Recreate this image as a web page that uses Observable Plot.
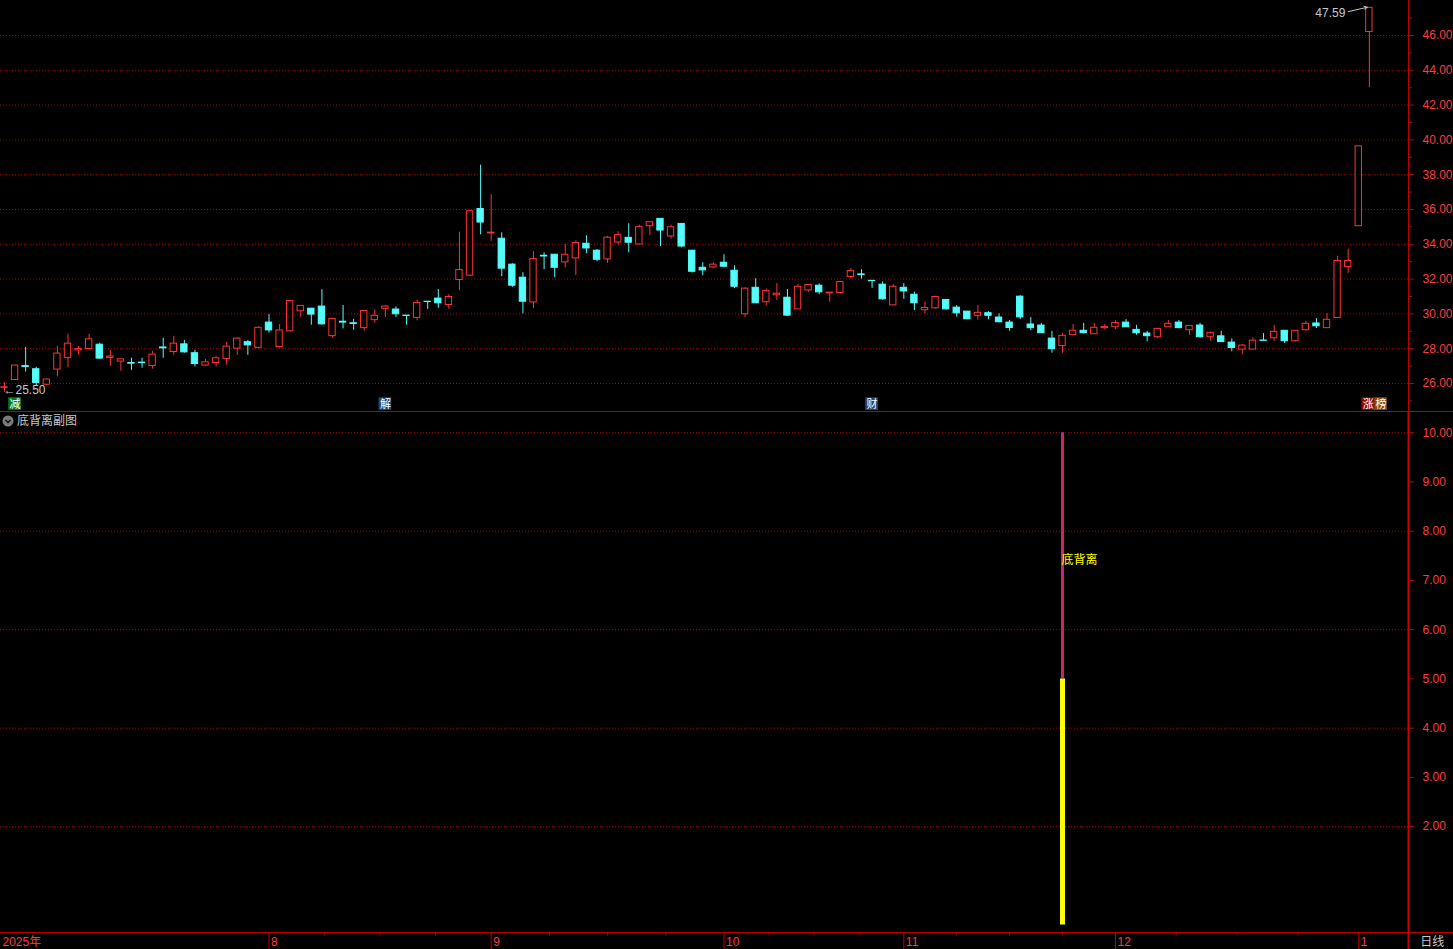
<!DOCTYPE html>
<html><head><meta charset="utf-8">
<script src="https://cdn.jsdelivr.net/npm/d3@7"></script>
<script src="https://cdn.jsdelivr.net/npm/@observablehq/plot@0.6"></script>
<style>
html,body{margin:0;padding:0;background:#000;overflow:hidden;}
#wrap{position:relative;width:1453px;height:949px;background:#000;}
#wrap > div.pane{position:absolute;left:0;}
.pane svg{display:block;}
.lbl{position:absolute;font:12px "Noto Sans CJK SC","Liberation Sans",sans-serif;color:#c8c8c8;white-space:nowrap;line-height:14px;}
.lbl svg{display:inline-block;vertical-align:-2px;margin-right:3px;}
</style></head><body><div id="wrap"></div>
<script>
// ---- candle data (index 0..129, late Jun 2025 -> 6 Jan 2026) ----
const opens  = [25.75,26.20,27.00,26.82,25.93,26.80,27.47,27.90,27.98,28.23,27.47,27.26,27.18,27.20,27.01,28.07,27.81,28.25,27.74,27.03,27.18,27.41,28.00,28.37,28.05,29.50,28.10,29.00,30.15,30.30,30.42,28.72,29.55,29.46,29.18,29.64,30.29,30.25,29.90,29.77,30.70,30.88,30.51,31.95,32.20,36.03,34.62,34.32,32.83,32.08,30.66,33.34,33.40,32.96,33.19,34.03,33.63,33.13,34.10,34.37,33.99,35.04,35.46,34.45,35.17,33.63,32.65,32.67,32.94,32.48,29.98,31.50,30.67,31.07,30.93,30.26,31.35,31.62,31.18,31.20,32.12,32.27,31.90,31.68,30.49,31.50,31.10,30.21,30.32,30.80,30.36,30.13,29.89,30.04,29.79,29.50,30.99,29.39,29.33,28.58,28.15,28.78,29.03,28.83,29.18,29.23,29.50,29.08,28.87,28.66,29.23,29.50,29.06,29.33,28.66,28.71,28.35,27.95,27.95,28.47,28.60,29.03,28.43,29.06,29.45,29.18,29.77,32.69,35.04,46.20];
const highs  = [26.05,27.05,28.08,26.93,26.25,28.14,28.83,28.14,28.83,28.31,27.91,27.39,27.45,27.45,27.85,28.60,28.71,28.48,27.91,27.39,27.56,28.37,28.64,28.48,29.25,29.96,29.39,30.76,30.46,30.30,31.39,29.73,30.48,29.68,30.20,30.24,30.46,30.40,29.90,30.80,30.70,31.40,31.10,34.70,35.92,38.55,36.85,34.66,32.88,32.37,33.57,33.51,33.42,33.99,34.20,34.49,33.70,34.45,34.72,35.18,35.10,35.28,35.47,35.10,35.18,33.65,32.94,32.94,33.40,32.77,31.50,32.02,31.43,31.74,31.40,31.70,31.68,31.72,31.22,31.84,32.60,32.54,31.90,31.84,31.68,31.74,31.25,30.70,30.98,30.82,30.48,30.14,30.48,30.13,30.00,29.62,31.05,29.79,29.45,28.99,28.86,29.39,29.45,29.45,29.39,29.62,29.67,29.34,29.00,29.15,29.62,29.62,29.32,29.45,28.96,29.00,28.56,28.26,28.63,28.87,29.34,29.04,29.04,29.57,29.73,30.02,33.32,33.72,39.64,47.59];
const lows   = [25.50,26.20,26.66,25.86,25.90,26.38,26.90,27.62,27.87,27.39,26.99,26.70,26.76,26.88,26.82,27.45,27.62,27.74,26.95,27.00,26.95,27.05,27.62,27.62,28.00,28.90,28.05,28.95,29.80,29.35,29.35,28.60,29.14,29.06,29.00,29.47,29.80,29.80,29.35,29.60,30.26,30.32,30.26,31.34,32.15,34.55,34.17,32.14,31.52,30.00,30.30,32.54,32.08,32.64,32.21,33.46,33.00,32.90,33.97,33.51,33.97,34.49,33.87,34.30,33.80,32.35,32.19,32.60,32.65,31.46,29.77,30.60,30.46,30.78,29.86,30.26,31.24,31.10,30.66,31.20,32.00,32.00,31.47,30.78,30.49,30.84,30.20,30.00,30.28,30.22,29.81,29.66,29.64,29.66,29.50,29.00,29.67,29.04,28.88,27.74,27.74,28.77,28.85,28.82,29.07,29.10,29.22,28.77,28.40,28.58,29.22,29.17,28.77,28.60,28.43,28.37,27.82,27.66,27.94,28.45,28.43,28.30,28.37,29.02,29.16,29.17,29.75,32.33,35.02,43.00];
const closes = [25.78,27.03,26.95,26.03,26.23,27.72,28.29,27.98,28.54,27.43,27.55,27.39,27.14,27.17,27.66,28.02,28.29,27.79,27.12,27.22,27.45,28.12,28.58,28.19,29.20,29.05,29.05,30.74,30.46,29.96,29.40,29.71,29.50,29.42,30.17,29.89,30.42,29.98,29.88,30.63,30.68,30.61,30.97,32.52,35.90,35.25,34.67,32.60,31.62,30.70,33.15,33.30,32.65,33.40,34.08,33.76,33.11,34.38,34.53,34.09,35.00,35.27,34.79,34.98,33.87,32.42,32.50,32.83,32.71,31.56,31.45,30.61,31.32,31.16,29.90,31.56,31.66,31.24,31.22,31.83,32.46,32.23,31.88,30.84,31.56,31.29,30.61,30.34,30.97,30.26,30.03,29.69,30.06,29.89,29.52,29.19,29.80,29.18,28.89,27.97,28.74,29.03,28.89,29.20,29.25,29.48,29.23,28.89,28.72,29.14,29.43,29.18,29.31,28.66,28.91,28.38,28.04,28.18,28.46,28.45,28.97,28.43,29.03,29.43,29.29,29.66,33.04,33.04,39.63,47.59];

// price axis ticks
const priceTicks = [26,28,30,32,34,36,38,40,42,44,46];
const priceMinor = [25,27,29,31,33,35,37,39,41,43,45,47];

// event markers on the price pane
const markText = ["减","解","财","涨","榜"];
const markIdx  = [1.0, 36, 82, 128.9, 130.1];
const markBg   = ["#0a7a0a","#1c4a6e","#1c4a6e","#8c0a0a","#8c4a0a"];

// indicator (底背离副图)
const sigIdx = [100];
const sigTop = [10];
const sigMid = [5];
const sigBottom = [0];
const sigLabel = ["底背离"];
const sigLabelY = [7.42];
const indTicks = [2,3,4,5,6,7,8,9,10];
const indGrid = [2,4,6,8,10];

// date axis
const monthLabels = ["2025年","8","9","10","11","12","1"];
const monthIdx = [-0.378,25,46,68,85,105,128];
const minorIdx = [30.25,35.5,40.75,51.5,57,62.5,72.25,76.5,80.75,90,95,100,110.75,116.5,122.25];

// ---- build ----
const RED="#ff3232", CYAN="#54fcfc", GRID="#b00000", AXIS="#c00000", LBL="#ff3c3c", GRAY="#c8c8c8";
const MAGENTA="#d0206e", YELLOW="#ffff00";
const FONT="'Liberation Sans', Arial, 'Noto Sans CJK SC', sans-serif";
const W=1453, RM=45;
const xDomain=[-0.378,132.70];

const candles = opens.map((o,i)=>({i,o,h:highs[i],l:lows[i],c:closes[i]}));
const up = candles.filter(d=>d.c>=d.o), dn = candles.filter(d=>d.c<d.o);
const marks = markText.map((t,k)=>({t,i:markIdx[k],bg:markBg[k]}));
const sig = sigIdx.map((i,k)=>({i,top:sigTop[k],mid:sigMid[k],bot:sigBottom[k],label:sigLabel[k],ly:sigLabelY[k]}));
const baseStyle = {background:"#000",color:LBL,fontFamily:FONT,fontSize:"12px",overflow:"visible"};

const priceChart = Plot.plot({
  width:W, height:412, marginTop:0, marginBottom:0, marginLeft:0, marginRight:RM,
  style:baseStyle,
  x:{domain:xDomain, axis:null},
  y:{domain:[24.333,48.011], axis:null},
  marks:[
    Plot.ruleY(priceTicks,{stroke:GRID,strokeDasharray:"1,2"}),
    Plot.ruleX(up,{x:"i",y1:"l",y2:"h",stroke:RED}),
    Plot.ruleX(dn,{x:"i",y1:"l",y2:"h",stroke:CYAN}),
    Plot.rect(up,{x1:d=>d.i-0.3,x2:d=>d.i+0.3,y1:"o",y2:"c",fill:"#000",stroke:RED}),
    Plot.rect(dn,{x1:d=>d.i-0.3,x2:d=>d.i+0.3,y1:"c",y2:"o",fill:CYAN,stroke:CYAN}),
    Plot.axisY(priceTicks,{anchor:"right",tickSize:5,tickPadding:9,tickFormat:d=>d.toFixed(2),stroke:AXIS,fill:LBL,fontSize:12}),
    Plot.axisY(priceMinor,{anchor:"right",tickSize:3,tickFormat:()=>"",stroke:AXIS}),
    Plot.ruleX([xDomain[1]],{stroke:AXIS}),
    // low / high labels
    Plot.text([candles[0]],{x:"i",y:"l",text:d=>"←"+d.l.toFixed(2),textAnchor:"start",dx:-1,dy:-2,fill:GRAY,fontSize:12}),
    Plot.text([candles[129]],{x:"i",y:"h",text:d=>d.h.toFixed(2),textAnchor:"end",dx:-24,dy:5,fill:GRAY,fontSize:12}),
    Plot.arrow([candles[129]],{x1:d=>d.i-2.0,y1:d=>d.h-0.22,x2:d=>d.i-0.2,y2:d=>d.h+0.03,stroke:GRAY,headLength:5,strokeWidth:1}),
    // event markers
    Plot.rect(marks,{x1:d=>d.i-0.6,x2:d=>d.i+0.6,y1:24.45,y2:25.18,fill:"bg"}),
    Plot.text(marks,{x:"i",y:24.80,text:"t",fill:"#fff",fontSize:11,fontFamily:"'Noto Sans CJK SC',sans-serif"})
  ],
  color:{type:"identity"}
});

const indChart = Plot.plot({
  width:W, height:520, marginTop:0, marginBottom:0, marginLeft:0, marginRight:RM,
  style:baseStyle,
  x:{domain:xDomain, axis:null},
  y:{domain:[-0.15,10.41], axis:null},
  marks:[
    Plot.ruleY(indGrid,{stroke:GRID,strokeDasharray:"1,2"}),
    Plot.ruleX(sig,{x:"i",y1:"mid",y2:"top",stroke:MAGENTA,strokeWidth:3}),
    Plot.ruleX(sig,{x:"i",y1:"bot",y2:"mid",stroke:YELLOW,strokeWidth:5}),
    Plot.text(sig,{x:"i",y:"ly",text:"label",fill:YELLOW,textAnchor:"start",dx:-1,fontSize:12,fontFamily:"'Noto Sans CJK SC',sans-serif"}),
    Plot.axisY(indTicks,{anchor:"right",tickSize:5,tickPadding:9,tickFormat:d=>d.toFixed(2),stroke:AXIS,fill:LBL,fontSize:12}),
    Plot.ruleX([xDomain[1]],{stroke:"#d00000",strokeWidth:2})
  ]
});

const dateChart = Plot.plot({
  width:W, height:17, margin:0,
  style:baseStyle,
  x:{domain:[-0.378,136.95], axis:null},
  y:{domain:[0,1], axis:null},
  marks:[
    Plot.ruleY([1],{stroke:AXIS}),
    Plot.ruleX(monthIdx.slice(1),{stroke:AXIS}),
    Plot.ruleX(minorIdx,{y1:0.8,y2:1,stroke:AXIS}),
    Plot.text(monthLabels,{x:(d,k)=>monthIdx[k],y:0.45,text:d=>d,textAnchor:"start",dx:2,fill:LBL,fontSize:12,fontFamily:"'Liberation Sans','Noto Sans CJK SC',sans-serif"}),
    Plot.ruleX([xDomain[1]],{stroke:AXIS,strokeWidth:2}),
    Plot.text(["日线"],{x:133.8,y:0.45,text:d=>d,textAnchor:"start",fill:GRAY,fontSize:12,fontFamily:"'Noto Sans CJK SC',sans-serif"})
  ]
});

const wrap = document.getElementById("wrap");
function place(node, top){const d=document.createElement("div");d.className="pane";d.style.top=top+"px";d.appendChild(node);wrap.appendChild(d);}
place(priceChart,0);
place(indChart,412);
place(dateChart,932);
// pane separator
const sep=document.createElement("div");
sep.style.cssText="position:absolute;left:0;top:411px;width:1453px;height:1px;background:#c00000;";
wrap.appendChild(sep);
// sub-chart title
const t=document.createElement("div");
t.className="lbl";t.style.left="2px";t.style.top="413px";
t.innerHTML='<svg width="12" height="12"><circle cx="6" cy="6" r="5.5" fill="#7a7a7a"/><path d="M3.5 5 L6 7.5 L8.5 5" stroke="#111" stroke-width="1.5" fill="none"/></svg>底背离副图';
wrap.appendChild(t);
</script></body></html>
